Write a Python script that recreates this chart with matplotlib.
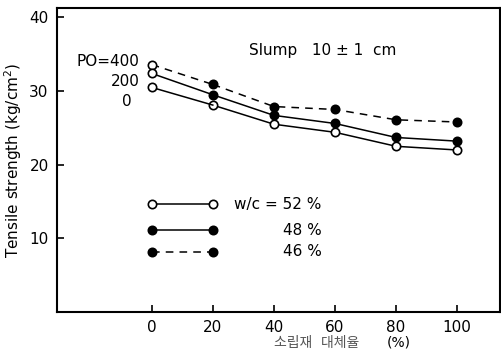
"""
    Tensile strength vs. replacement ratio, three w/c series.
"""

import matplotlib
matplotlib.use("Agg")
import matplotlib.pyplot as plt

plt.rcParams['font.family'] = ['DejaVu Sans', 'Noto Sans CJK KR']

# Data.
replacement = [0, 20, 40, 60, 80, 100]
wc52 = [30.5, 28.1, 25.5, 24.4, 22.5, 22.0]
wc48 = [32.4, 29.5, 26.7, 25.6, 23.7, 23.2]
wc46 = [33.6, 30.9, 27.9, 27.5, 26.1, 25.8]
x_ticks = [0, 20, 40, 60, 80, 100]
y_ticks = [10, 20, 30, 40]
legend_labels = ['w/c = 52 %', '48 %', '46 %']
po_labels = ['PO=400', '200', '0']

fig = plt.figure(figsize=(5.02, 3.57), dpi=100)
ax = fig.add_axes([0.1135, 0.126, 0.8825, 0.852])

kw = dict(color='black', linewidth=1.1, markersize=6, markeredgewidth=1.2)
ax.plot(replacement[1:], wc46[1:], '--o', dashes=(5, 4), **kw)
ax.plot(replacement[1:], wc48[1:], '-o', **kw)
ax.plot(replacement[1:], wc52[1:], '-o', markerfacecolor='white', **kw)
# first segment (x=0 is open circle for all three)
ax.plot(replacement[:2], wc46[:2], '--', dashes=(5, 4), color='black', linewidth=1.1)
ax.plot(replacement[:2], wc48[:2], '-', color='black', linewidth=1.1)
ax.plot(replacement[:2], wc52[:2], '-', color='black', linewidth=1.1)
ax.plot([0, 0, 0], [wc46[0], wc48[0], wc52[0]], 'o', markerfacecolor='white', **kw)

# PO labels at the start of each line
ax.text(-4, 34.0, po_labels[0], ha='right', va='center', fontsize=11)
ax.text(-4, 31.3, po_labels[1], ha='right', va='center', fontsize=11)
ax.text(-8, 28.6, po_labels[2], ha='center', va='center', fontsize=11)

ax.text(32, 35.5, 'Slump   10 ± 1  cm', ha='left', va='center', fontsize=11)

# legend drawn by hand
ly = [14.6, 11.1, 8.2]
ax.plot([0, 20], [ly[0], ly[0]], '-o', markerfacecolor='white', **kw)
ax.plot([0, 20], [ly[1], ly[1]], '-o', **kw)
ax.plot([0, 20], [ly[2], ly[2]], '--o', dashes=(5, 4), **kw)
ax.text(27, ly[0], legend_labels[0], ha='left', va='center', fontsize=11)
ax.text(43, ly[1], legend_labels[1], ha='left', va='center', fontsize=11)
ax.text(43, ly[2], legend_labels[2], ha='left', va='center', fontsize=11)

ax.set_xlim(-31, 114)
ax.set_ylim(0, 41.3)
ax.set_xticks(x_ticks)
ax.set_yticks(y_ticks)
ax.tick_params(direction='in', length=5, width=1.2, labelsize=11, pad=6)
for s in ax.spines.values():
    s.set_linewidth(1.5)

ax.set_ylabel('Tensile strength (kg/cm$^2$)', fontsize=11, labelpad=4)
ax.text(54, -4.2, '소립재  대체율', ha='center', va='center',
        fontsize=10, color='#555555', clip_on=False)
ax.text(81, -4.2, '(%)', ha='center', va='center', fontsize=10, clip_on=False)

fig.savefig('out.png', dpi=100)
